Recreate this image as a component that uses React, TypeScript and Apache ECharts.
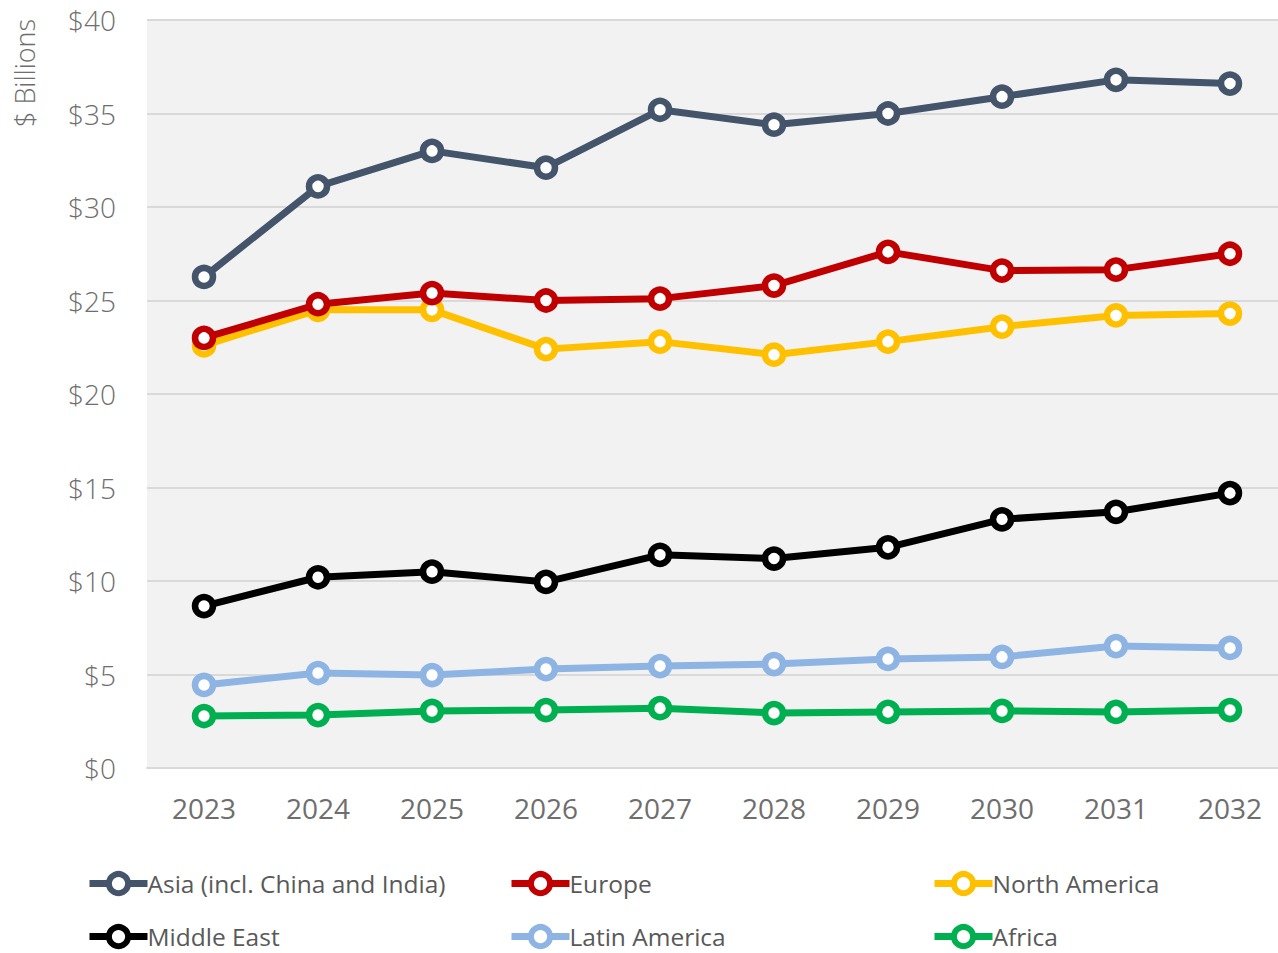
import React, { useEffect, useRef } from "react";
import * as echarts from "echarts";

const years = ["2023", "2024", "2025", "2026", "2027", "2028", "2029", "2030", "2031", "2032"];
const asia = [26.26, 31.1, 33.0, 32.1, 35.2, 34.4, 35.0, 35.9, 36.8, 36.6];
const europe = [23.0, 24.8, 25.4, 25.0, 25.1, 25.8, 27.6, 26.6, 26.65, 27.5];
const northAmerica = [22.6, 24.5, 24.5, 22.4, 22.8, 22.1, 22.8, 23.6, 24.2, 24.3];
const middleEast = [8.66, 10.2, 10.5, 9.95, 11.4, 11.2, 11.8, 13.3, 13.7, 14.7];
const latinAmerica = [4.44, 5.08, 4.97, 5.29, 5.45, 5.56, 5.83, 5.94, 6.52, 6.42];
const africa = [2.78, 2.83, 3.05, 3.1, 3.2, 2.94, 3.0, 3.05, 3.0, 3.1];

const seriesNames = [
  "Asia (incl. China and India)",
  "Europe",
  "North America",
  "Middle East",
  "Latin America",
  "Africa",
];
const seriesData = [asia, europe, northAmerica, middleEast, latinAmerica, africa];
const colors = ["#44546a", "#c00000", "#ffc000", "#000000", "#8eb4e3", "#00b050"];
const legendPos = [
  [86, 871],
  [508, 871],
  [931, 871],
  [86, 924],
  [508, 924],
  [931, 924],
];

export default function App() {
  const ref = useRef<HTMLDivElement>(null);
  useEffect(() => {
    if (!ref.current) return;
    const chart = echarts.init(ref.current, null, { renderer: "svg" });
    const font = "'Open Sans', 'Noto Sans', sans-serif";
    chart.setOption({
      animation: false,
      textStyle: { fontFamily: font },
      grid: { left: 147, right: 3, top: 20, bottom: 185, show: true, backgroundColor: "#f2f2f2", borderWidth: 0 },
      xAxis: {
        type: "category",
        data: years,
        boundaryGap: true,
        axisLine: { show: true, lineStyle: { color: "#d9d9d9", width: 2 } },
        axisTick: { show: false },
        axisLabel: { color: "#6e6e6e", fontSize: 28, fontFamily: font, margin: 26 },
      },
      yAxis: {
        type: "value",
        min: 0,
        max: 40,
        interval: 5,
        axisLine: { show: false },
        axisTick: { show: false },
        splitLine: { lineStyle: { color: "#d9d9d9", width: 2 } },
        axisLabel: {
          color: "#6e6e6e",
          fontSize: 28,
          fontWeight: 300,
          fontFamily: font,
          margin: 31,
          formatter: (v: number) => "$" + v,
        },
      },
      graphic: [
        {
          type: "text",
          x: 11,
          y: 127,
          rotation: Math.PI / 2,
          style: {
            text: "$ Billions",
            fontSize: 27,
            fontWeight: 300,
            fontFamily: font,
            fill: "#6e6e6e",
            textAlign: "left",
            textVerticalAlign: "top",
          },
        },
      ],
      legend: seriesNames.map((n, i) => ({
        data: [n],
        left: legendPos[i][0],
        top: legendPos[i][1],
        itemWidth: 58,
        itemHeight: 24,
        itemGap: 0,
        padding: 0,
        lineStyle: { width: 7 },
        itemStyle: { borderWidth: 6 },
        textStyle: {
          fontSize: 24.5,
          lineHeight: 24,
          color: "#595959",
          fontFamily: font,
          padding: [0, 0, 0, -5],
        },
        selectedMode: false,
      })),
      series: seriesNames.map((n, i) => ({
        name: n,
        type: "line",
        data: seriesData[i],
        symbol: "circle",
        symbolSize: 18,
        lineStyle: { color: colors[i], width: 7 },
        itemStyle: { color: "#ffffff", borderColor: colors[i], borderWidth: 6.5 },
        z: 10 - i,
      })),
    });
    return () => chart.dispose();
  }, []);
  return (
    <div
      ref={ref}
      style={{ position: "absolute", left: 0, top: 0, width: 1290, height: 953 }}
    />
  );
}
